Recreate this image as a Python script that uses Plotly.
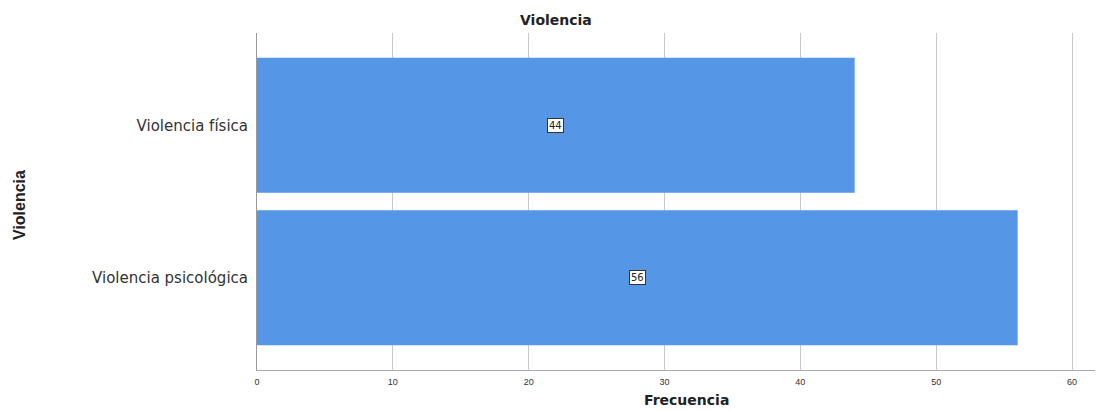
import plotly.graph_objects as go

categories = ["Violencia física", "Violencia psicológica"]
values = [44, 56]
x_ticks = [0, 10, 20, 30, 40, 50, 60]

# the page body adds an 8px offset; figure coords = page coords - 8
OFF = 8
W, H = 1103 - OFF, 411 - OFF
L, R, T = 257 - OFF, 3, 33 - OFF
B = H - (370 - OFF)
PW, PH = W - L - R, H - T - B
xmax = 60 * PW / (1072 - 257)


def px(x):  # page pixel -> plot-paper x
    return (x - OFF - L) / PW


def py(y):  # page pixel -> plot-paper y
    return 1 - (y - OFF - T) / PH


FONT = "DejaVu Sans"
fig = go.Figure()
fig.add_trace(go.Bar(
    x=values, y=categories, orientation="h",
    marker=dict(color="#5596E6", line=dict(width=0)),
    width=0.885, hoverinfo="skip",
))

for c, v in zip(categories, values):
    fig.add_annotation(
        x=v / 2, y=c, text=str(v), showarrow=False,
        font=dict(family=FONT, size=10, color="#222"),
        bgcolor="white", bordercolor="#333", borderwidth=1, borderpad=1,
    )

# titles
fig.add_annotation(xref="paper", yref="paper", x=px(556), y=py(20), text="<b>Violencia</b>",
                   showarrow=False, xanchor="center", yanchor="middle",
                   font=dict(family=FONT, size=14, color="#222"))
fig.add_annotation(xref="paper", yref="paper", x=px(686), y=py(400), text="<b>Frecuencia</b>",
                   showarrow=False, xanchor="center", yanchor="middle",
                   font=dict(family=FONT, size=14, color="#222"))
fig.add_annotation(xref="paper", yref="paper", x=px(19), y=py(205), text="<b>Violencia</b>",
                   showarrow=False, xanchor="center", yanchor="middle", textangle=-90,
                   font=dict(family="Liberation Sans Narrow, Liberation Sans", size=16, color="#222"))

fig.update_layout(
    width=W, height=H,
    margin=dict(l=L, r=R, t=T, b=B),
    plot_bgcolor="white", paper_bgcolor="white",
    showlegend=False,
    xaxis=dict(range=[0, xmax], tickvals=x_ticks, showgrid=True, gridcolor="#c8c8c8",
               gridwidth=1, zeroline=False, showline=True, linecolor="#aaa",
               ticks="", automargin=False, ticklabelstandoff=3,
               tickfont=dict(family="Liberation Sans, Arial", size=9, color="#333")),
    yaxis=dict(range=[1.605, -0.605], showgrid=False, zeroline=False, showline=True,
               linecolor="#999", linewidth=1, ticks="", ticklabelstandoff=5, automargin=False,
               tickfont=dict(family=FONT, size=15, color="#333")),
)

fig.write_html("out.html")
